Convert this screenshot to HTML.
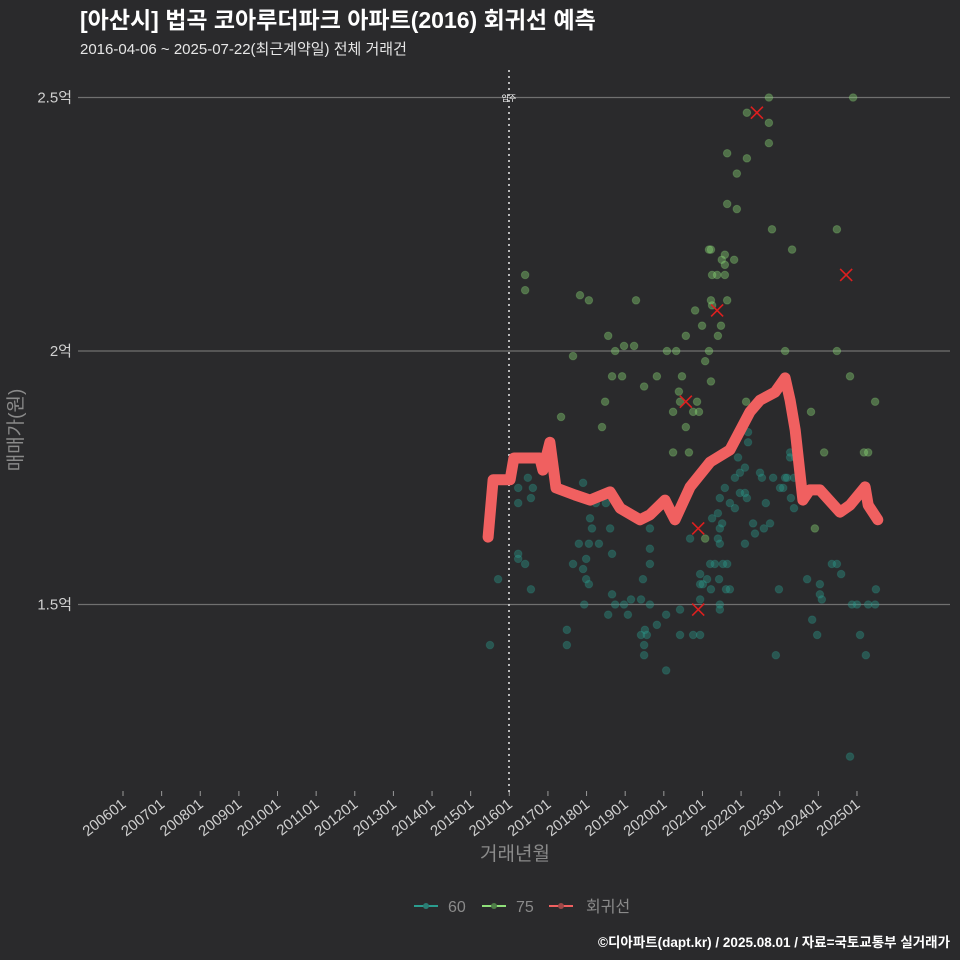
<!DOCTYPE html>
<html><head><meta charset="utf-8">
<style>
html,body{margin:0;padding:0;background:#2a2a2c;}
svg{display:block;font-family:"Liberation Sans","Noto Sans CJK KR",sans-serif;}
</style></head>
<body>
<svg id="chart" width="960" height="960" viewBox="0 0 960 960">
<rect x="0" y="0" width="960" height="960" fill="#2a2a2c"/>
<text x="80" y="28" font-size="23" font-weight="bold" fill="#ffffff">[아산시] 법곡 코아루더파크 아파트(2016) 회귀선 예측</text>
<text x="80" y="54" font-size="15" fill="#e6e6e6">2016-04-06 ~ 2025-07-22(최근계약일) 전체 거래건</text>
<g id="grid"></g>
<g id="yticks"></g>
<g id="xticks"></g>
<line x1="509" y1="70" x2="509" y2="792" stroke="#dddddd" stroke-width="1.6" stroke-dasharray="2,4"/>
<text x="509" y="101" font-size="8" fill="#ffffff" text-anchor="middle">입주</text>
<g id="pts60"></g>
<g id="pts75"></g>
<g id="reg"></g>
<g id="marks"></g>
<text transform="translate(22,430) rotate(-90)" font-size="19" fill="#8a8a8a" text-anchor="middle">매매가(원)</text>
<text x="515" y="860" font-size="19" fill="#8a8a8a" text-anchor="middle">거래년월</text>
<g>
  <g>
    <line x1="414" y1="906" x2="438" y2="906" stroke="#2a9d8f" stroke-width="2"/>
    <circle cx="426" cy="906" r="3" fill="#2a7d74"/>
    <text x="448" y="912" font-size="16" fill="#8a8a8a">60</text>
  </g>
  <g>
    <line x1="482" y1="906" x2="506" y2="906" stroke="#8fe07a" stroke-width="2"/>
    <circle cx="494" cy="906" r="3" fill="#4f7f48"/>
    <text x="516" y="912" font-size="16" fill="#8a8a8a">75</text>
  </g>
  <g>
    <line x1="549" y1="906" x2="573" y2="906" stroke="#f06060" stroke-width="2"/>
    <circle cx="561" cy="906" r="3" fill="#a04848"/>
    <text x="586" y="912" font-size="16" fill="#8a8a8a">회귀선</text>
  </g>
</g>
<text x="950" y="947" font-size="13.5" font-weight="bold" fill="#ffffff" text-anchor="end">©디아파트(dapt.kr) / 2025.08.01 / 자료=국토교통부 실거래가</text>
</svg>
<script>
const xTickLabels = ["200601","200701","200801","200901","201001","201101","201201","201301","201401","201501","201601","201701","201801","201901","202001","202101","202201","202301","202401","202501"];
const yTickValues = [15000, 20000, 25000];
const yTickLabels = ["1.5억", "2억", "2.5억"];
const regDates = [2015.45,2015.58,2016.02,2016.12,2016.79,2016.87,2017.05,2017.21,2017.70,2018.09,2018.61,2018.87,2019.38,2019.64,2020.03,2020.16,2020.29,2020.68,2021.20,2021.71,2022.23,2022.49,2022.88,2023.14,2023.27,2023.40,2023.60,2023.78,2024.04,2024.56,2024.82,2025.21,2025.29,2025.54];
const regValues = [16330,17460,17460,17890,17890,17650,18200,17300,17160,17060,17220,16900,16670,16770,17060,16860,16670,17320,17810,18050,18800,19030,19190,19470,19030,18440,17060,17260,17260,16820,16960,17320,16960,16670];
const dates75 = [2022.72,2024.90,2022.15,2022.72,2022.72,2021.64,2022.15,2021.89,2021.64,2021.89,2022.80,2024.48,2021.17,2021.22,2023.32,2021.58,2021.50,2021.82,2021.58,2021.25,2021.38,2021.58,2016.41,2016.41,2017.83,2018.06,2019.28,2021.22,2021.64,2021.25,2020.81,2020.99,2021.48,2020.57,2021.40,2018.56,2018.97,2019.23,2017.65,2018.74,2020.08,2020.32,2021.17,2023.14,2024.48,2021.07,2018.66,2018.92,2019.82,2020.47,2021.22,2024.82,2019.49,2020.39,2020.42,2020.86,2022.13,2018.48,2017.34,2020.91,2020.24,2020.76,2023.81,2025.47,2018.40,2020.57,2020.24,2020.65,2025.18,2025.29,2024.15,2023.91,2021.07];
const values75 = [25000,25000,24700,24500,24100,23900,23800,23500,22900,22800,22400,22400,22000,22000,22000,21900,21800,21800,21700,21500,21500,21500,21500,21200,21100,21000,21000,21000,21000,20900,20800,20500,20500,20300,20300,20300,20100,20100,19900,20000,20000,20000,20000,20000,20000,19800,19500,19500,19500,19500,19400,19500,19300,19200,19000,19000,19000,19000,18700,18800,18800,18800,18800,19000,18500,18500,18000,18000,18000,18000,18000,16500,16300];
const dates60 = [2016.48,2016.23,2016.56,2016.61,2016.23,2017.91,2018.24,2018.50,2018.09,2018.14,2018.61,2016.56,2016.23,2016.23,2016.41,2017.80,2018.06,2018.32,2017.65,2017.99,2017.91,2017.99,2018.06,2018.66,2018.66,2017.94,2018.74,2018.97,2019.07,2019.15,2018.56,2017.49,2019.41,2019.64,2019.46,2019.64,2019.64,2019.64,2019.56,2019.49,2019.49,2019.51,2017.49,2019.41,2019.82,2020.06,2020.42,2020.42,2020.76,2020.94,2020.06,2021.12,2021.61,2021.71,2021.53,2021.64,2020.68,2020.94,2020.94,2020.94,2021.45,2021.45,2021.43,2021.22,2021.01,2021.32,2021.20,2021.45,2021.40,2021.45,2021.51,2021.25,2021.40,2021.71,2021.45,2021.84,2021.58,2021.84,2022.10,2021.97,2022.10,2021.92,2022.18,2022.18,2022.49,2022.54,2021.97,2022.15,2022.64,2022.31,2022.36,2022.10,2022.75,2022.59,2022.83,2023.14,2023.19,2023.37,2023.27,2023.27,2023.40,2023.09,2023.29,2023.01,2023.37,2023.55,2022.90,2022.98,2024.04,2023.84,2024.35,2024.48,2023.71,2024.04,2024.09,2024.59,2024.87,2025.00,2025.29,2025.47,2025.49,2025.08,2025.23,2023.97,2024.82,2015.50,2015.71];
const values60 = [17500,17300,17100,17300,17000,17400,17000,17000,16700,16500,16500,15300,16000,15900,15800,16200,16200,16200,15800,15900,15700,15500,15400,16000,15200,15000,15000,15000,14800,15100,14800,14500,15100,15000,15500,15800,16100,16500,14400,14200,14000,14500,14200,14400,14600,14800,14900,14400,14400,14400,13700,15500,15300,15300,15800,15800,16300,15400,15600,15100,15000,14900,15500,15300,15400,15800,15800,16200,16300,16500,16600,16700,16800,17000,17100,16900,17300,17500,17700,17200,17200,17900,18200,18400,17600,17500,17600,17100,17000,16600,16400,16200,16600,16500,17500,17500,17500,17500,18000,17900,17900,17300,17100,17300,16900,17200,14000,15300,15400,14700,15800,15800,15500,15200,15100,15600,15000,15000,15000,15000,15300,14400,14000,14400,12000,14200,15500];
const markDates = [2022.41,2021.38,2020.57,2024.72,2020.89,2020.89];
const markValues = [24700,20800,19000,21500,16500,14900];

const NS = "http://www.w3.org/2000/svg";
function xScale(yr){ return 123 + (yr - 2006) * 38.63; }
function yScale(v){ return 351 - (v - 20000) * 0.0507; }
function mk(tag, attrs, parent){ const e = document.createElementNS(NS, tag); for (const k in attrs) e.setAttribute(k, attrs[k]); parent.appendChild(e); return e; }

const grid = document.getElementById('grid');
const yt = document.getElementById('yticks');
yTickValues.forEach((v, i) => {
  const y = yScale(v);
  const l = mk('line', {x1: 78, x2: 950, y1: y, y2: y, stroke: '#707070', 'stroke-width': 1.2}, grid);
  
  
  const t = mk('text', {x: 72, y: y + 5, 'font-size': 15, fill: '#d0d0d0', 'text-anchor': 'end'}, yt);
  t.textContent = yTickLabels[i];
  
  
});
const xt = document.getElementById('xticks');
xTickLabels.forEach((lab) => {
  const yr = parseInt(lab.slice(0, 4)) + (parseInt(lab.slice(4)) - 1) / 12;
  const x = xScale(yr);
  const tk = mk('line', {x1: x, x2: x, y1: 791, y2: 796, stroke: '#999', 'stroke-width': 1}, xt);
  
  
  const t = mk('text', {x: x + 4, y: 806, 'font-size': 15, fill: '#cfcfcf', 'text-anchor': 'end', transform: 'rotate(-38 ' + (x + 4) + ' 806)'}, xt);
  t.textContent = lab;
  
  
});
const g60 = document.getElementById('pts60');
dates60.forEach((d, i) => {
  const c = mk('circle', {cx: xScale(d), cy: yScale(values60[i]), r: 3.8, fill: '#2a9d8f', 'fill-opacity': 0.38, stroke: '#2a9d8f', 'stroke-opacity': 0.25}, g60);
  
  
});
const g75 = document.getElementById('pts75');
dates75.forEach((d, i) => {
  const c = mk('circle', {cx: xScale(d), cy: yScale(values75[i]), r: 3.8, fill: '#8fe07a', 'fill-opacity': 0.38, stroke: '#8fe07a', 'stroke-opacity': 0.25}, g75);
  
  
});
const reg = document.getElementById('reg');
const pts = regDates.map((d, i) => xScale(d).toFixed(1) + ',' + yScale(regValues[i]).toFixed(1)).join(' ');
const pl = mk('polyline', {points: pts, fill: 'none', stroke: '#f06060', 'stroke-width': 11, 'stroke-linejoin': 'round', 'stroke-linecap': 'round'}, reg);


const gm = document.getElementById('marks');
markDates.forEach((d, i) => {
  const x = xScale(d), y = yScale(markValues[i]);
  const p = mk('path', {d: `M${x-6},${y-6}L${x+6},${y+6}M${x-6},${y+6}L${x+6},${y-6}`, stroke: '#dd1f1f', 'stroke-width': 1.6, fill: 'none'}, gm);
  
  
});
</script>
</body></html>
